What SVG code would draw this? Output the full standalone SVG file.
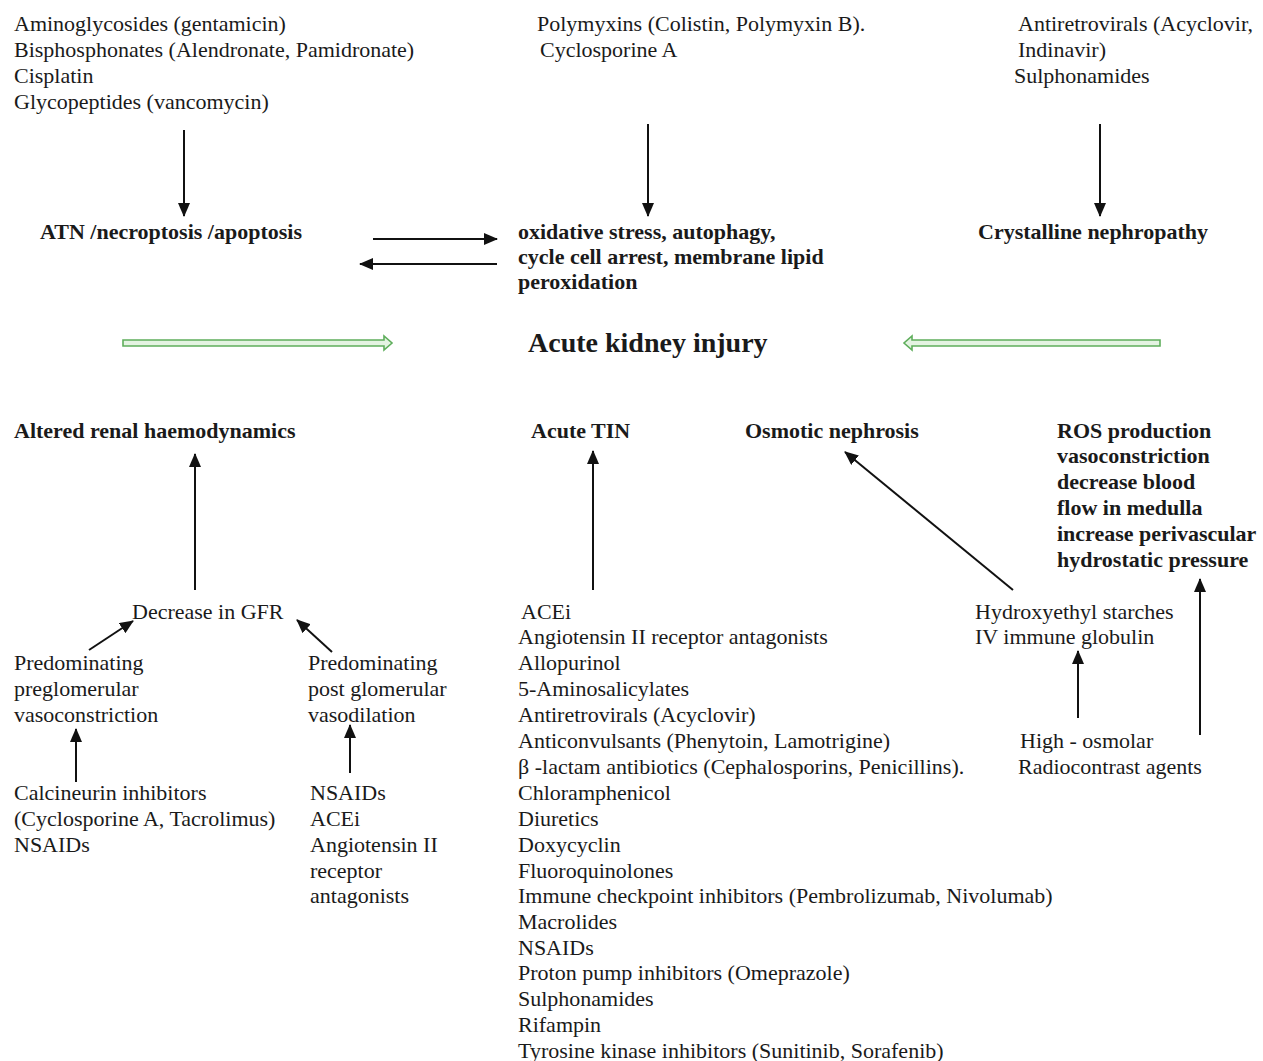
<svg xmlns="http://www.w3.org/2000/svg" width="1263" height="1061" viewBox="0 0 1263 1061">
<style>
text{font-family:"Liberation Serif","Times New Roman",serif;font-size:22px;fill:#1a1a1a}
.b{font-weight:bold}
.big{font-size:28px;font-weight:bold}
.ln{stroke:#111;stroke-width:2;fill:none}
.g{fill:#e4f3e2;stroke:#5fae5c;stroke-width:1.6}
</style>
<defs>
<marker id="ah" viewBox="0 0 14 12" refX="13" refY="6" markerWidth="14" markerHeight="12" markerUnits="userSpaceOnUse" orient="auto">
<path d="M0,0 L14,6 L0,12 Z" fill="#111"/>
</marker>
</defs>
<rect width="1263" height="1061" fill="#fff"/>

<g id="drugs-atn">
<text x="14" y="31">Aminoglycosides (gentamicin)</text>
<text x="14" y="57">Bisphosphonates (Alendronate, Pamidronate)</text>
<text x="14" y="83">Cisplatin</text>
<text x="14" y="109">Glycopeptides (vancomycin)</text>
</g>
<g id="drugs-oxid">
<text x="537" y="31">Polymyxins (Colistin, Polymyxin B).</text>
<text x="540" y="57">Cyclosporine A</text>
</g>
<g id="drugs-cryst">
<text x="1018" y="31">Antiretrovirals (Acyclovir,</text>
<text x="1018" y="57">Indinavir)</text>
<text x="1014" y="83">Sulphonamides</text>
</g>
<g id="atn"><text class="b" x="40" y="239">ATN /necroptosis /apoptosis</text></g>
<g id="oxid">
<text class="b" x="518" y="239">oxidative stress, autophagy,</text>
<text class="b" x="518" y="264">cycle cell arrest, membrane lipid</text>
<text class="b" x="518" y="289">peroxidation</text>
</g>
<g id="cryst"><text class="b" x="978" y="239">Crystalline nephropathy</text></g>
<g id="aki"><text class="big" x="528" y="352">Acute kidney injury</text></g>

<g id="haemo"><text class="b" x="14" y="438">Altered renal haemodynamics</text></g>
<g id="tin"><text class="b" x="531" y="438">Acute TIN</text></g>
<g id="osmotic"><text class="b" x="745" y="438">Osmotic nephrosis</text></g>
<g id="ros">
<text class="b" x="1057" y="438">ROS production</text>
<text class="b" x="1057" y="463">vasoconstriction</text>
<text class="b" x="1057" y="489">decrease blood</text>
<text class="b" x="1057" y="515">flow in medulla</text>
<text class="b" x="1057" y="541">increase perivascular</text>
<text class="b" x="1057" y="567">hydrostatic pressure</text>
</g>

<g id="gfr"><text x="132" y="619">Decrease in GFR</text></g>
<g id="pre">
<text x="14" y="670">Predominating</text>
<text x="14" y="696">preglomerular</text>
<text x="14" y="722">vasoconstriction</text>
</g>
<g id="post">
<text x="308" y="670">Predominating</text>
<text x="308" y="696">post glomerular</text>
<text x="308" y="722">vasodilation</text>
</g>
<g id="calcineurin">
<text x="14" y="800">Calcineurin inhibitors</text>
<text x="14" y="826">(Cyclosporine A, Tacrolimus)</text>
<text x="14" y="852">NSAIDs</text>
</g>
<g id="nsaids-post">
<text x="310" y="800">NSAIDs</text>
<text x="310" y="826">ACEi</text>
<text x="310" y="852">Angiotensin II</text>
<text x="310" y="878">receptor</text>
<text x="310" y="903">antagonists</text>
</g>
<g id="tin-drugs">
<text x="521" y="619">ACEi</text>
<text x="518" y="644">Angiotensin II receptor antagonists</text>
<text x="518" y="670">Allopurinol</text>
<text x="518" y="696">5-Aminosalicylates</text>
<text x="518" y="722">Antiretrovirals (Acyclovir)</text>
<text x="518" y="748">Anticonvulsants (Phenytoin, Lamotrigine)</text>
<text x="518" y="774">β -lactam antibiotics (Cephalosporins, Penicillins).</text>
<text x="518" y="800">Chloramphenicol</text>
<text x="518" y="826">Diuretics</text>
<text x="518" y="852">Doxycyclin</text>
<text x="518" y="878">Fluoroquinolones</text>
<text x="518" y="903">Immune checkpoint inhibitors (Pembrolizumab, Nivolumab)</text>
<text x="518" y="929">Macrolides</text>
<text x="518" y="955">NSAIDs</text>
<text x="518" y="980">Proton pump inhibitors (Omeprazole)</text>
<text x="518" y="1006">Sulphonamides</text>
<text x="518" y="1032">Rifampin</text>
<text x="518" y="1058">Tyrosine kinase inhibitors (Sunitinib, Sorafenib)</text>
</g>
<g id="hes">
<text x="975" y="619">Hydroxyethyl starches</text>
<text x="975" y="644">IV immune globulin</text>
</g>
<g id="radiocontrast">
<text x="1020" y="748">High - osmolar</text>
<text x="1018" y="774">Radiocontrast agents</text>
</g>

<g id="connectors">
<line class="ln" x1="184" y1="130" x2="184" y2="216" marker-end="url(#ah)"/>
<line class="ln" x1="648" y1="124" x2="648" y2="216" marker-end="url(#ah)"/>
<line class="ln" x1="1100" y1="124" x2="1100" y2="216" marker-end="url(#ah)"/>
<line class="ln" x1="373" y1="239" x2="497" y2="239" marker-end="url(#ah)"/>
<line class="ln" x1="497" y1="264" x2="360" y2="264" marker-end="url(#ah)"/>
<path class="g" d="M123,340 H384 V336 L392,343 L384,350 V346 H123 Z"/>
<path class="g" d="M1160,340 H912 V336 L904,343 L912,350 V346 H1160 Z"/>
<line class="ln" x1="195" y1="590" x2="195" y2="454" marker-end="url(#ah)"/>
<line class="ln" x1="593" y1="590" x2="593" y2="451" marker-end="url(#ah)"/>
<line class="ln" x1="1013" y1="590" x2="845" y2="452" marker-end="url(#ah)"/>
<line class="ln" x1="1200" y1="735" x2="1200" y2="579" marker-end="url(#ah)"/>
<line class="ln" x1="89" y1="650" x2="133" y2="621" marker-end="url(#ah)"/>
<line class="ln" x1="332" y1="652" x2="297" y2="620" marker-end="url(#ah)"/>
<line class="ln" x1="76" y1="782" x2="76" y2="729" marker-end="url(#ah)"/>
<line class="ln" x1="350" y1="773" x2="350" y2="725" marker-end="url(#ah)"/>
<line class="ln" x1="1078" y1="718" x2="1078" y2="651" marker-end="url(#ah)"/>
</g>
</svg>
